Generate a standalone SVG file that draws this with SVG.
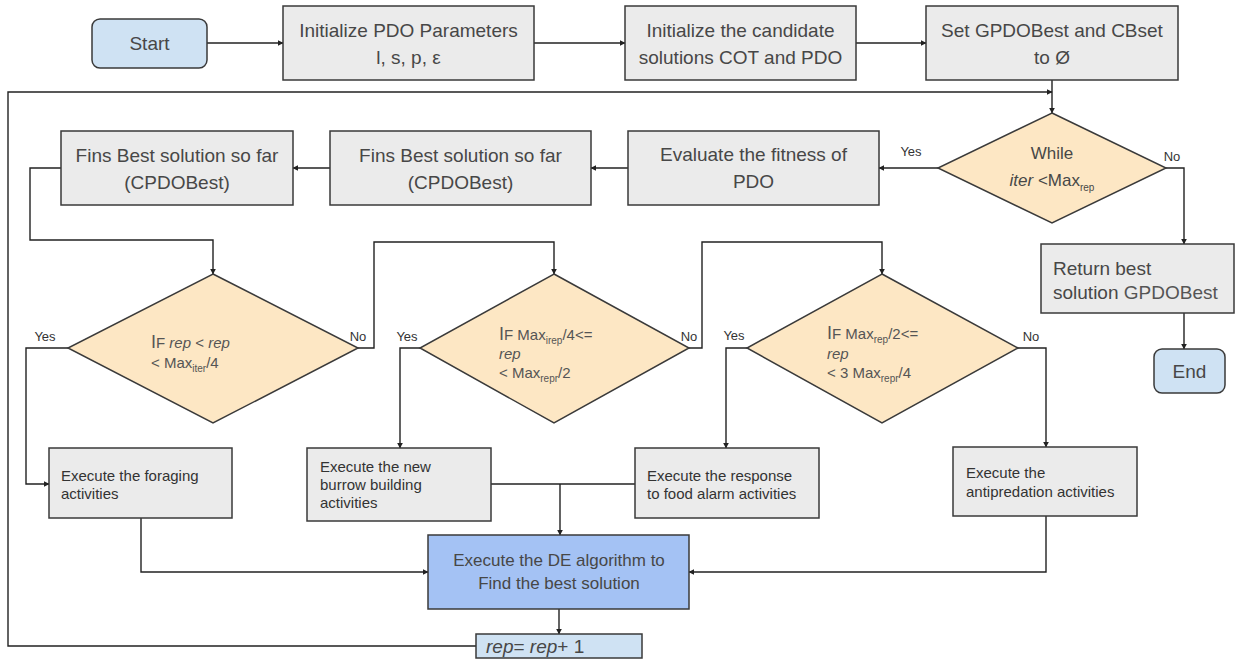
<svg xmlns="http://www.w3.org/2000/svg" width="1241" height="661" viewBox="0 0 1241 661">
<style>
text{font-family:"Liberation Sans",Arial,sans-serif;fill:#474747}
.box{fill:#ebebeb;stroke:#3a3a3a;stroke-width:1.5}
.term{fill:#cfe2f3;stroke:#3a3a3a;stroke-width:1.5}
.dia{fill:#fde7c4;stroke:#3a3a3a;stroke-width:1.5}
.de{fill:#a4c2f4;stroke:#3a3a3a;stroke-width:1.5}
.big{font-size:19px}
.mid{font-size:17px}
.sm{font-size:15px;fill:#333}
.dt{font-size:15px;fill:#555}
.lab{font-size:13px;fill:#333}
.c{text-anchor:middle}
.i{font-style:italic}
.sub{font-size:10px}
.conn{fill:none;stroke:#222;stroke-width:1.4}
</style>
<defs>
<marker id="arr" viewBox="0 0 10 10" refX="9" refY="5" markerWidth="6" markerHeight="6" markerUnits="userSpaceOnUse" orient="auto">
<path d="M0,0 L10,5 L0,10 z" fill="#222"/>
</marker>
</defs>

<g id="connectors">
<path class="conn" d="M207,43 H283" marker-end="url(#arr)"/>
<path class="conn" d="M534,43 H625" marker-end="url(#arr)"/>
<path class="conn" d="M856,43 H926" marker-end="url(#arr)"/>
<path class="conn" d="M1052,80 V113" marker-end="url(#arr)"/>
<path class="conn" d="M476,646 H8 V92 H1052" marker-end="url(#arr)"/>
<path class="conn" d="M938,168 H879" marker-end="url(#arr)"/>
<path class="conn" d="M1166,168 H1184 V244" marker-end="url(#arr)"/>
<path class="conn" d="M628,168 H591" marker-end="url(#arr)"/>
<path class="conn" d="M330,168 H293" marker-end="url(#arr)"/>
<path class="conn" d="M61,168 H30 V240 H213 V274" marker-end="url(#arr)"/>
<path class="conn" d="M68,348 H26 V484 H49" marker-end="url(#arr)"/>
<path class="conn" d="M358,348 H374 V242 H554 V274" marker-end="url(#arr)"/>
<path class="conn" d="M420,348 H400 V448" marker-end="url(#arr)"/>
<path class="conn" d="M689,348 H702 V242 H882 V274" marker-end="url(#arr)"/>
<path class="conn" d="M747,348 H726 V448" marker-end="url(#arr)"/>
<path class="conn" d="M1018,348 H1046 V447" marker-end="url(#arr)"/>
<path class="conn" d="M141,518 V572 H428" marker-end="url(#arr)"/>
<path class="conn" d="M491,484 H635"/>
<path class="conn" d="M560,484 V535" marker-end="url(#arr)"/>
<path class="conn" d="M1046,516 V572 H689" marker-end="url(#arr)"/>
<path class="conn" d="M559,609 V634" marker-end="url(#arr)"/>
<path class="conn" d="M1184,313 V349" marker-end="url(#arr)"/>
<text class="lab c" x="911" y="156">Yes</text>
<text class="lab c" x="1172" y="161">No</text>
<text class="lab c" x="45" y="341">Yes</text>
<text class="lab c" x="358" y="341">No</text>
<text class="lab c" x="407" y="341">Yes</text>
<text class="lab c" x="689" y="341">No</text>
<text class="lab c" x="734" y="340">Yes</text>
<text class="lab c" x="1031" y="341">No</text>
</g>

<g id="start">
<rect class="term" x="92" y="19" width="115" height="49" rx="8"/>
<text class="big c" x="149.5" y="50">Start</text>
</g>

<g id="init-params">
<rect class="box" x="283" y="6" width="251" height="74"/>
<text class="big c" x="408.5" y="37">Initialize PDO Parameters</text>
<text class="big c" x="408.5" y="64">l, s, p, ε</text>
</g>

<g id="init-candidates">
<rect class="box" x="625" y="6" width="231" height="74"/>
<text class="big c" x="740.5" y="37">Initialize the candidate</text>
<text class="big c" x="740.5" y="64">solutions COT and PDO</text>
</g>

<g id="set-best">
<rect class="box" x="926" y="6" width="252" height="74"/>
<text class="big c" x="1052" y="37">Set GPDOBest and CBset</text>
<text class="big c" x="1052" y="64">to Ø</text>
</g>

<g id="while">
<polygon class="dia" points="1052,113 1166,168 1052,223 938,168"/>
<text class="mid c" x="1052" y="159">While</text>
<text class="mid c" x="1052" y="186"><tspan class="i">iter</tspan> &lt;Max<tspan class="sub" dy="5">rep</tspan></text>
</g>

<g id="evaluate">
<rect class="box" x="628" y="131" width="251" height="74"/>
<text class="big c" x="753.5" y="161">Evaluate the fitness of</text>
<text class="big c" x="753.5" y="188">PDO</text>
</g>

<g id="fins-best-2">
<rect class="box" x="330" y="131" width="261" height="74"/>
<text class="big c" x="460.5" y="162">Fins Best solution so far</text>
<text class="big c" x="460.5" y="189">(CPDOBest)</text>
</g>

<g id="fins-best-1">
<rect class="box" x="61" y="131" width="232" height="74"/>
<text class="big c" x="177" y="162">Fins Best solution so far</text>
<text class="big c" x="177" y="189">(CPDOBest)</text>
</g>

<g id="if-1">
<polygon class="dia" points="213,274 358,348 213,423 68,348"/>
<text class="dt" x="151" y="348"><tspan font-size="18">I</tspan>F <tspan class="i">rep</tspan> &lt; <tspan class="i">rep</tspan></text>
<text class="dt" x="151" y="368">&lt; Max<tspan class="sub" dy="4">iter</tspan><tspan dy="-4">/4</tspan></text>
</g>

<g id="if-2">
<polygon class="dia" points="554,274 689,348 554,423 420,348"/>
<text class="dt" x="499" y="340"><tspan font-size="18">I</tspan>F Max<tspan class="sub" dy="4">irep</tspan><tspan dy="-4">/4&lt;=</tspan></text>
<text class="dt i" x="499" y="359">rep</text>
<text class="dt" x="499" y="378">&lt; Max<tspan class="sub" dy="4">repr</tspan><tspan dy="-4">/2</tspan></text>
</g>

<g id="if-3">
<polygon class="dia" points="882,274 1018,348 882,423 747,348"/>
<text class="dt" x="827" y="339"><tspan font-size="18">I</tspan>F Max<tspan class="sub" dy="4">rep</tspan><tspan dy="-4">/2&lt;=</tspan></text>
<text class="dt i" x="827" y="359">rep</text>
<text class="dt" x="827" y="378">&lt; 3 Max<tspan class="sub" dy="4">repr</tspan><tspan dy="-4">/4</tspan></text>
</g>

<g id="return">
<rect class="box" x="1041" y="244" width="193" height="69"/>
<text class="big" x="1053" y="275" fill="#222">Return best</text>
<text class="big" x="1053" y="299" fill="#222">solution <tspan fill="#555">GPDOBest</tspan></text>
</g>

<g id="end">
<rect class="term" x="1154" y="349" width="71" height="44" rx="8"/>
<text class="big c" x="1189.5" y="378" fill="#222">End</text>
</g>

<g id="foraging">
<rect class="box" x="49" y="448" width="183" height="70"/>
<text class="sm" x="61" y="481">Execute the foraging</text>
<text class="sm" x="61" y="499">activities</text>
</g>

<g id="burrow">
<rect class="box" x="307" y="448" width="184" height="73"/>
<text class="sm" x="320" y="472">Execute the new</text>
<text class="sm" x="320" y="490">burrow building</text>
<text class="sm" x="320" y="508">activities</text>
</g>

<g id="food-alarm">
<rect class="box" x="635" y="448" width="184" height="70"/>
<text class="sm" x="647" y="481">Execute the response</text>
<text class="sm" x="647" y="499">to food alarm activities</text>
</g>

<g id="antipredation">
<rect class="box" x="953" y="447" width="184" height="69"/>
<text class="sm" x="966" y="478">Execute the</text>
<text class="sm" x="966" y="497">antipredation activities</text>
</g>

<g id="de">
<rect class="de" x="428" y="535" width="261" height="74"/>
<text class="mid c" x="559" y="566">Execute the DE algorithm to</text>
<text class="mid c" x="559" y="589">Find the best solution</text>
</g>

<g id="increment">
<rect class="term" x="476" y="634" width="166" height="24"/>
<text class="big" x="486" y="653" fill="#222"><tspan class="i">rep</tspan>= <tspan class="i">rep</tspan>+ 1</text>
</g>
</svg>
